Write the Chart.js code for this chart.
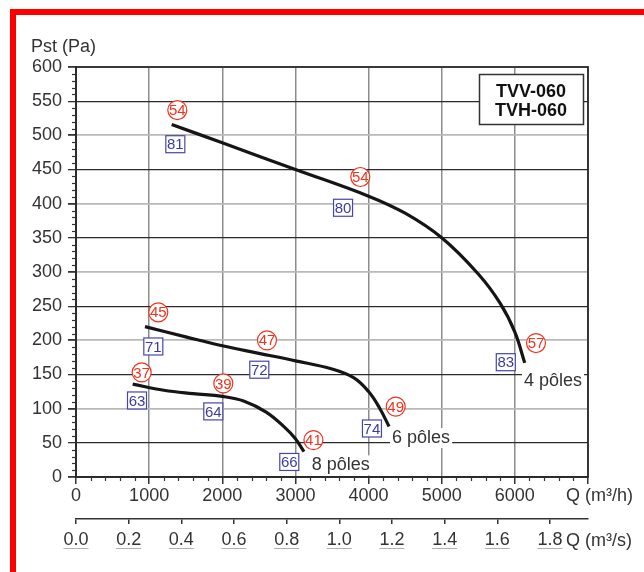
<!DOCTYPE html>
<html>
<head>
<meta charset="utf-8">
<script src="https://cdn.jsdelivr.net/npm/chart.js@4.4.1/dist/chart.umd.min.js"></script>
<style>
html,body{margin:0;padding:0;background:#fff;}
#c{display:block;}
</style>
</head>
<body>
<canvas id="c" width="644" height="572"></canvas>
<script>
// ---------- DATA ----------
const flowTicks = [0, 1000, 2000, 3000, 4000, 5000, 6000, 7000];
const flowTickLabels = ['0', '1000', '2000', '3000', '4000', '5000', '6000', ''];
const flowM3sTicks = [0.0, 0.2, 0.4, 0.6, 0.8, 1.0, 1.2, 1.4, 1.6, 1.8];
const flowM3sTickLabels = ['0.0', '0.2', '0.4', '0.6', '0.8', '1.0', '1.2', '1.4', '1.6', '1.8'];
const pressureTicks = [0, 50, 100, 150, 200, 250, 300, 350, 400, 450, 500, 550, 600];
const pressureTickLabels = ['0', '50', '100', '150', '200', '250', '300', '350', '400', '450', '500', '550', '600'];

// 4 pôles curve
const poles4Flow = [1308, 2000, 3000, 4000, 4500, 5000, 5500, 5800, 6000, 6135];
const poles4Pst  = [516, 489, 450, 411, 386, 350, 297, 254, 212, 167];
// 6 pôles curve
const poles6Flow = [943, 1500, 2000, 2500, 3000, 3500, 3800, 4000, 4150, 4280];
const poles6Pst  = [220, 205, 192, 181, 170, 158, 145, 125, 101, 74];
// 8 pôles curve
const poles8Flow = [775, 1200, 1600, 2000, 2300, 2600, 2850, 3000, 3117];
const poles8Pst  = [136, 127, 122, 118, 111, 95, 73, 56, 37];

const curveNames = ['4 pôles', '6 pôles', '8 pôles'];
const curveLabelFlow = [6125, 4321, 3222];
const curveLabelPst  = [140, 57, 17];

// sound level values in red circles
const circleValues = ['54', '54', '57', '45', '47', '49', '37', '39', '41'];
const circleFlow   = [1385, 3887, 6289, 1125, 2611, 4371, 898, 2014, 3246];
const circlePst    = [537, 439, 196, 241, 200, 103, 153, 137, 54];
// values in blue boxes
const boxValues = ['81', '80', '83', '71', '72', '74', '63', '64', '66'];
const boxFlow   = [1358, 3651, 5876, 1057, 2506, 4046, 834, 1877, 2916];
const boxPst    = [487, 394, 168, 191, 157, 71, 112, 96, 22];

const modelNames = ['TVV-060', 'TVH-060'];
const yTitle = 'Pst (Pa)';
const xTitle = 'Q (m³/h)';
const x2Title = 'Q (m³/s)';

// ---------- CHART ----------
const FONT = '"Liberation Sans", Arial, sans-serif';
Chart.defaults.font.family = FONT;
Chart.defaults.font.size = 18;
Chart.defaults.color = '#333';

function pts(xs, ys) { return xs.map((v, i) => ({x: v, y: ys[i]})); }
const curveStyle = {borderColor: '#151515', borderWidth: 3.2, pointRadius: 0, tension: 0.4, fill: false};

const extras = {
  id: 'extras',
  beforeDraw(chart) {
    const ctx = chart.ctx;
    ctx.save();
    ctx.fillStyle = '#fff';
    ctx.fillRect(0, 0, chart.width, chart.height);
    ctx.restore();
  },
  afterDraw(chart) {
    const ctx = chart.ctx;
    const a = chart.chartArea;
    const x = chart.scales.x, y = chart.scales.y, x2 = chart.scales.x2;
    ctx.save();
    // frame
    ctx.strokeStyle = '#2a2a2a';
    ctx.lineWidth = 1.8;
    ctx.strokeRect(a.left, a.top, a.right - a.left, a.bottom - a.top);
    // minor y ticks
    ctx.lineWidth = 1.2;
    ctx.strokeStyle = '#333';
    for (let v = 0; v <= 600; v += 10) {
      if (v % 50 === 0) continue;
      const py = Math.round(y.getPixelForValue(v)) + 0.5;
      ctx.beginPath(); ctx.moveTo(a.left - 4, py); ctx.lineTo(a.left, py); ctx.stroke();
    }
    // minor x ticks
    for (let v = 200; v < 7000; v += 200) {
      if (v % 1000 === 0) continue;
      const px = Math.round(x.getPixelForValue(v)) + 0.5;
      ctx.beginPath(); ctx.moveTo(px, a.bottom); ctx.lineTo(px, a.bottom + 4); ctx.stroke();
    }
    // underlines of second axis labels
    ctx.strokeStyle = '#b0b0b0';
    ctx.lineWidth = 1;
    ctx.font = '18px ' + FONT;
    flowM3sTicks.forEach((v, i) => {
      const px = x2.getPixelForValue(v);
      const w = ctx.measureText(flowM3sTickLabels[i]).width;
      ctx.beginPath(); ctx.moveTo(px - w / 2, 548.5); ctx.lineTo(px + w / 2, 548.5); ctx.stroke();
    });
    // axis titles
    ctx.fillStyle = '#333';
    ctx.textBaseline = 'middle';
    ctx.textAlign = 'left';
    ctx.fillText(yTitle, 31, 47);
    ctx.fillText(xTitle, 566, 496);
    ctx.fillText(x2Title, 566, 541);
    // curve labels with white background
    curveNames.forEach((t, i) => {
      const px = x.getPixelForValue(curveLabelFlow[i]);
      const py = y.getPixelForValue(curveLabelPst[i]);
      const w = ctx.measureText(t).width;
      ctx.fillStyle = '#fff';
      ctx.fillRect(px - 2, py - 10, w + 4, 20);
      ctx.fillStyle = '#333';
      ctx.fillText(t, px, py);
    });
    // red circles
    ctx.font = '15px ' + FONT;
    ctx.textAlign = 'center';
    circleValues.forEach((t, i) => {
      const px = x.getPixelForValue(circleFlow[i]);
      const py = y.getPixelForValue(circlePst[i]);
      ctx.beginPath(); ctx.arc(px, py, 9.5, 0, Math.PI * 2);
      ctx.fillStyle = '#fff'; ctx.fill();
      ctx.strokeStyle = '#f0321e'; ctx.lineWidth = 1.2; ctx.stroke();
      ctx.fillStyle = '#f0321e';
      ctx.fillText(t, px, py + 1);
    });
    // blue boxes
    boxValues.forEach((t, i) => {
      const px = x.getPixelForValue(boxFlow[i]);
      const py = y.getPixelForValue(boxPst[i]);
      ctx.fillStyle = '#fff';
      ctx.fillRect(px - 9.5, py - 8.5, 19, 17);
      ctx.strokeStyle = '#4646aa'; ctx.lineWidth = 1.2;
      ctx.strokeRect(px - 9.5, py - 8.5, 19, 17);
      ctx.fillStyle = '#3c3ca0';
      ctx.fillText(t, px, py + 1);
    });
    // model box
    ctx.fillStyle = '#fff';
    ctx.fillRect(479, 74, 104, 50);
    ctx.strokeStyle = '#333'; ctx.lineWidth = 1.5;
    ctx.strokeRect(479.5, 74.5, 104, 50);
    ctx.fillStyle = '#111';
    ctx.font = 'bold 18px ' + FONT;
    ctx.fillText(modelNames[0], 531, 92);
    ctx.fillText(modelNames[1], 531, 111);
    // red frame
    ctx.fillStyle = '#ff0000';
    ctx.fillRect(10, 9, 634, 6);
    ctx.fillRect(10, 9, 6, 563);
    ctx.restore();
  }
};

new Chart(document.getElementById('c'), {
  type: 'line',
  data: {
    datasets: [
      Object.assign({label: curveNames[0], data: pts(poles4Flow, poles4Pst)}, curveStyle),
      Object.assign({label: curveNames[1], data: pts(poles6Flow, poles6Pst)}, curveStyle),
      Object.assign({label: curveNames[2], data: pts(poles8Flow, poles8Pst)}, curveStyle)
    ]
  },
  options: {
    responsive: false,
    animation: false,
    devicePixelRatio: 1,
    layout: {padding: {left: 0, right: 56, top: 67, bottom: 13}},
    plugins: {legend: {display: false}, tooltip: {enabled: false}},
    scales: {
      x: {
        type: 'linear', position: 'bottom', min: 0, max: 7000, weight: 0,
        afterFit: s => { s.height = 42; },
        afterBuildTicks: s => { s.ticks = flowTicks.map(v => ({value: v})); },
        ticks: {padding: 1, maxRotation: 0, autoSkip: false, color: '#333',
          callback: (v, i) => flowTickLabels[i]},
        grid: {color: '#8c8c8c', lineWidth: 1.5, tickLength: 7, tickColor: '#333'},
        border: {display: true, color: '#2a2a2a', width: 1.8}
      },
      x2: {
        type: 'linear', position: 'bottom', min: 0, max: 7000 / 3600, weight: 1,
        afterFit: s => { s.height = 40; },
        afterBuildTicks: s => { s.ticks = flowM3sTicks.map(v => ({value: v})); },
        ticks: {padding: 5, maxRotation: 0, autoSkip: false, color: '#333',
          callback: (v, i) => flowM3sTickLabels[i]},
        grid: {drawOnChartArea: false, tickLength: 5, tickColor: '#333', lineWidth: 1.5},
        border: {display: true, color: '#333', width: 1.5}
      },
      y: {
        type: 'linear', min: 0, max: 600,
        afterFit: s => { s.width = 76; },
        afterBuildTicks: s => { s.ticks = pressureTicks.map(v => ({value: v})); },
        ticks: {padding: 6, autoSkip: false, color: '#333',
          callback: (v, i) => pressureTickLabels[i]},
        grid: {
          color: c => (c.tick && c.tick.value % 100 === 50) ? '#2b2b2b' : '#b9b9b9',
          lineWidth: c => (c.tick && c.tick.value % 100 === 50) ? 1.3 : 1.8,
          tickLength: 8, tickColor: '#333'
        },
        border: {display: true, color: '#2a2a2a', width: 1.8}
      }
    }
  },
  plugins: [extras]
});
</script>
</body>
</html>
